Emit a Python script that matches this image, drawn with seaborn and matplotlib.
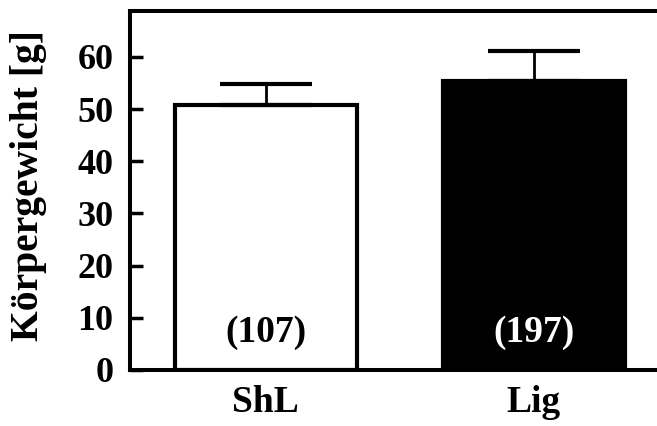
import matplotlib
matplotlib.use("Agg")
import matplotlib.pyplot as plt
import seaborn as sns
import pandas as pd

# Body weight per group (mean, upper SD) and sample sizes
groups = ["ShL", "Lig"]
means = [50.8, 55.4]
errors = [4.1, 5.7]
counts = ["(107)", "(197)"]
bar_colors = ["white", "black"]
count_colors = ["black", "white"]
y_ticks = [0, 10, 20, 30, 40, 50, 60]

sns.set_theme(style="white", rc={
    "text.color": "black", "axes.labelcolor": "black",
    "xtick.color": "black", "ytick.color": "black",
    "axes.edgecolor": "black",
})
plt.rcParams["font.family"] = ["Liberation Serif", "DejaVu Serif"]
plt.rcParams["font.weight"] = "bold"

df = pd.DataFrame({"group": groups, "mean": means})

fig = plt.figure(figsize=(6.57, 4.26), dpi=100)
ax = fig.add_axes([0.198, 0.1315, 0.802, 0.8425])

sns.barplot(data=df, x="group", y="mean", hue="group", palette=bar_colors,
            edgecolor="black", linewidth=3, width=0.68, legend=False, ax=ax,
            errorbar=None)

# upper-only error bars
ax.errorbar(range(len(groups)), means, yerr=[[0] * len(errors), errors],
            fmt="none", ecolor="black", elinewidth=2, capsize=33, capthick=3,
            zorder=1)

for i, (c, col) in enumerate(zip(counts, count_colors)):
    ax.text(i, 7.1, c, ha="center", va="center", color=col,
            fontsize=27, fontweight="bold")

ax.set_xlim(-0.506, 1.46)
ax.set_ylim(0, 68.8)
ax.set_yticks(y_ticks)
ax.set_xlabel("")
ax.set_ylabel("Körpergewicht [g]", fontsize=28.5, fontweight="bold")
ax.yaxis.set_label_coords(-0.158, 0.515)

ax.tick_params(axis="y", direction="in", length=9, width=2.5, labelsize=26,
               pad=12, left=True)
ax.tick_params(axis="x", bottom=False, labelsize=27, pad=5)
for lbl in ax.get_xticklabels() + ax.get_yticklabels():
    lbl.set_fontweight("bold")

for side in ["left", "top", "bottom"]:
    ax.spines[side].set_visible(True)
    ax.spines[side].set_linewidth(2.9)
    ax.spines[side].set_color("black")
ax.spines["right"].set_visible(False)

fig.savefig("out.png", dpi=100)
